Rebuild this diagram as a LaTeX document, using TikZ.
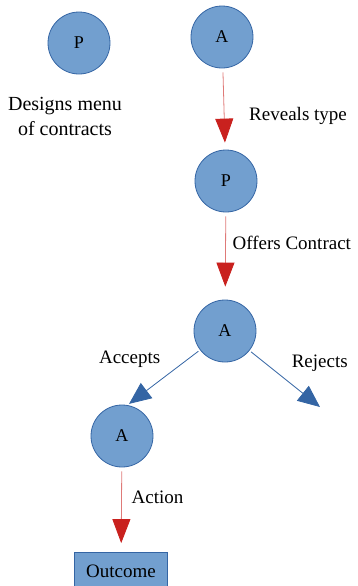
\documentclass[tikz,border=0pt]{standalone}
\usepackage{fontspec}
\setmainfont{Liberation Serif}
\usetikzlibrary{arrows.meta, positioning}
\definecolor{nodefill}{HTML}{729FCF}
\definecolor{nodeline}{HTML}{3465A4}
\definecolor{arrowred}{HTML}{C9211E}
\definecolor{arrowblue}{HTML}{3465A4}
\tikzstyle{player} = [circle, draw=nodeline, fill=nodefill, line width=0.4pt, minimum size=31pt, inner sep=0pt, font=\fontsize{9}{10}\selectfont]
\tikzstyle{outcomebox} = [rectangle, draw=nodeline, fill=nodefill, line width=0.4pt, minimum width=46.5pt, minimum height=18.5pt, font=\fontsize{9.5}{11}\selectfont]
\tikzstyle{label} = [font=\fontsize{9.5}{12.5}\selectfont]
\tikzstyle{move} = [-{Triangle[length=12pt, width=9pt, color=arrowred]}, line width=0.4pt, draw=arrowred!60, shorten <=2pt]
\tikzstyle{reply} = [-{Triangle[length=11pt, width=9.5pt]}, line width=0.4pt, draw=arrowblue, shorten <=1pt]

\begin{document}
\begin{tikzpicture}[x=0.5pt, y=0.5pt]
    \useasboundingbox (0,0) rectangle (358,-586);

    \node (principal 1) [player] at (79,-43) {P};
    \node (agent 1) [player] at (222,-37) {A};
    \node (principal 2) [player] at (226,-181) {P};
    \node (agent 2) [player] at (225,-331) {A};
    \node (agent 3) [player] at (122,-436) {A};
    \node (outcome) [outcomebox] at (121,-571) {Outcome};
    \coordinate (reject end) at (320,-407);

    \node (menu) [label, font=\fontsize{10}{12.5}\selectfont, align=center, below=8pt of principal 1, xshift=-7pt] {Designs menu\\of contracts};

    % Arrows.
    \draw [move, shorten >=3.5pt] (agent 1) -- node [label, pos=0.58, right=9pt] {Reveals type} (principal 2);
    \draw [move, shorten >=6.5pt] (principal 2) -- node [label, pos=0.35, right=0pt] {Offers Contract} (agent 2);
    \draw [reply, shorten >=1pt] (agent 2) -- node [label, pos=0.45, above left=0pt] {Accepts} (agent 3.80);
    \draw [reply] (agent 2) -- node [label, pos=0.5, above right=0pt] {Rejects} (reject end);
    \draw [move, shorten >=4.5pt] (agent 3) -- node [label, pos=0.35, right=1.5pt] {Action} (outcome);
\end{tikzpicture}
\end{document}
